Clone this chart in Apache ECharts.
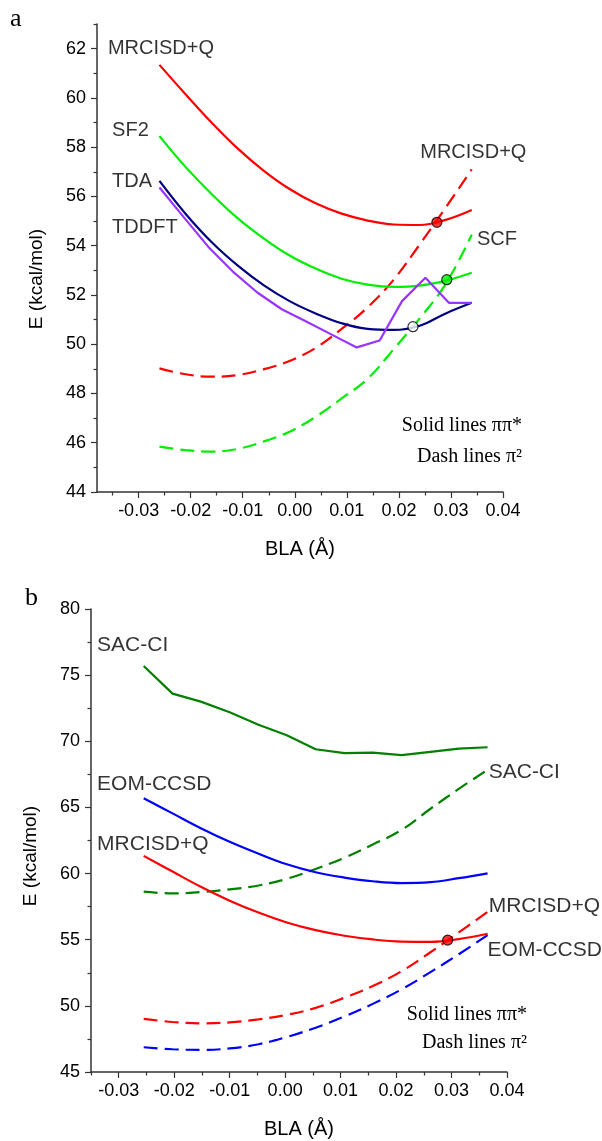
<!DOCTYPE html>
<html>
<head>
    <meta charset="utf-8">
    <title>BLA scan</title>
    <script src="https://cdn.jsdelivr.net/npm/echarts@6/dist/echarts.min.js"></script>
    <style>
        html, body { margin: 0; padding: 0; background: #fff; }
        #chart { width: 602px; height: 1141px; }
    </style>
</head>
<body>
<div id="chart"></div>
<script type="text/javascript">
    // BLA points (Å)
    var blaA = [-0.026, -0.021, -0.016, -0.011, -0.006, -0.001, 0.004, 0.009, 0.014, 0.019, 0.024, 0.029, 0.034];
    var blaTddft = [-0.026, -0.0213, -0.0166, -0.0119, -0.0072, -0.0025, 0.0022, 0.007, 0.0119, 0.0163, 0.0206, 0.0251, 0.0296, 0.034];
    var blaB = [-0.0255, -0.0203, -0.0152, -0.0100, -0.0048, 0.0003, 0.0055, 0.0107, 0.0158, 0.0210, 0.0262, 0.0313, 0.0365];

    // energies (kcal/mol)
    var mrSolid = [61.34, 60.15, 59.0, 57.95, 57.05, 56.3, 55.72, 55.3, 55.02, 54.86, 54.84, 55.05, 55.45];
    var mrDash  = [49.02, 48.78, 48.68, 48.75, 48.98, 49.32, 49.85, 50.62, 51.5, 52.62, 54.05, 55.55, 57.1];
    var sf2     = [58.45, 57.2, 56.1, 55.12, 54.3, 53.6, 53.07, 52.66, 52.42, 52.33, 52.38, 52.58, 52.9];
    var scf     = [45.84, 45.7, 45.64, 45.75, 46.05, 46.45, 47.05, 47.8, 48.6, 49.8, 51.05, 52.45, 54.45];
    var tda     = [56.63, 55.3, 54.15, 53.2, 52.4, 51.75, 51.25, 50.85, 50.62, 50.58, 50.75, 51.25, 51.68];
    var tddft   = [56.36, 55.15, 53.95, 52.95, 52.1, 51.42, 50.92, 50.4, 49.87, 50.15, 51.75, 52.7, 51.68, 51.68];

    var eomSolid = [65.69, 64.55, 63.43, 62.4, 61.5, 60.7, 60.1, 59.7, 59.42, 59.28, 59.35, 59.65, 60.02];
    var eomDash  = [46.87, 46.72, 46.67, 46.78, 47.1, 47.65, 48.35, 49.2, 50.15, 51.25, 52.55, 53.9, 55.35];
    var sacSolid = [75.69, 73.6, 73.0, 72.2, 71.25, 70.45, 69.4, 69.1, 69.15, 68.95, 69.2, 69.45, 69.55];
    var sacDash  = [58.63, 58.5, 58.6, 58.8, 59.1, 59.6, 60.35, 61.2, 62.2, 63.3, 64.9, 66.4, 67.85];

    // crossing points [BLA, E, fill]
    var crossA = [[0.0273, 54.95, '#ff0000'], [0.0292, 52.62, '#00ee00'], [0.0227, 50.71, '#ffffff']];
    var crossB = [[0.0293, 54.97, '#ff0000']];

    // curve names [BLA, E, text]
    var namesA = [[-0.0359, 62.0, 'MRCISD+Q'], [-0.0351, 58.66, 'SF2'], [-0.0351, 56.59, 'TDA'],
                  [-0.0351, 54.72, 'TDDFT'], [0.0241, 57.8, 'MRCISD+Q'], [0.035, 54.27, 'SCF']];
    var namesB = [[-0.0339, 77.28, 'SAC-CI'], [-0.0339, 66.75, 'EOM-CCSD'], [-0.0339, 62.2, 'MRCISD+Q'],
                  [0.0367, 67.64, 'SAC-CI'], [0.0367, 57.51, 'MRCISD+Q'], [0.0365, 54.19, 'EOM-CCSD']];

    // ticks
    var xTicks  = [-0.03, -0.02, -0.01, 0, 0.01, 0.02, 0.03, 0.04];
    var xMinorA = [-0.035, -0.025, -0.015, -0.005, 0.005, 0.015, 0.025, 0.035];
    var xMinorB = [-0.035, -0.025, -0.015, -0.005, 0.005, 0.015, 0.025, 0.035];
    var yTicksA = [44, 46, 48, 50, 52, 54, 56, 58, 60, 62];
    var yMinorA = [45, 47, 49, 51, 53, 55, 57, 59, 61, 63];
    var yTicksB = [45, 50, 55, 60, 65, 70, 75, 80];
    var yMinorB = [47.5, 52.5, 57.5, 62.5, 67.5, 72.5, 77.5];

    var SANS = '"Liberation Sans", Arial, sans-serif';
    var SERIF = '"Liberation Serif", "Times New Roman", serif';
    var AXIS_COLOR = '#333';

    function pairs(xs, ys) {
        return xs.map(function (x, i) { return [x, ys[i]]; });
    }

    function curve(name, xs, ys, color, dashed, smooth, idx) {
        return {
            name: name, type: 'line', xAxisIndex: idx, yAxisIndex: idx,
            data: pairs(xs, ys), showSymbol: false, smooth: smooth,
            lineStyle: { color: color, width: 2.2, type: dashed ? [14, 7] : 'solid' },
            z: 3
        };
    }

    function dots(list, idx) {
        return {
            type: 'scatter', xAxisIndex: idx, yAxisIndex: idx, symbolSize: 10, z: 10,
            data: list.map(function (d) {
                return { value: [d[0], d[1]], itemStyle: { color: d[2], borderColor: '#000', borderWidth: 1.2 } };
            })
        };
    }

    function names(list, idx, size) {
        return {
            type: 'scatter', xAxisIndex: idx, yAxisIndex: idx, symbolSize: 0, z: 12, silent: true,
            data: list.map(function (d) { return { value: [d[0], d[1]], name: d[2] }; }),
            label: {
                show: true, position: 'right', distance: 0, formatter: '{b}',
                fontFamily: SANS, fontSize: size, color: '#000', verticalAlign: 'middle'
            }
        };
    }

    function xMain(grid, min, ticks) {
        return {
            type: 'value', gridIndex: grid, position: 'bottom', min: min, max: 0.04,
            name: 'BLA (Å)', nameLocation: 'middle', nameGap: 47,
            nameTextStyle: { fontFamily: SANS, fontSize: 20, color: '#000' },
            axisLine: { onZero: false, lineStyle: { color: AXIS_COLOR, width: 1.5 } },
            axisTick: { customValues: ticks, length: 6, lineStyle: { color: AXIS_COLOR, width: 1.2 } },
            axisLabel: {
                customValues: ticks, margin: 10, fontFamily: SANS, fontSize: 18, color: '#000',
                formatter: function (v) { return v.toFixed(2); }
            },
            splitLine: { show: false }
        };
    }

    function xMinor(grid, min, ticks) {
        return {
            type: 'value', gridIndex: grid, position: 'bottom', min: min, max: 0.04,
            axisLine: { show: false, onZero: false },
            axisTick: { customValues: ticks, length: 3.5, lineStyle: { color: AXIS_COLOR, width: 1.2 } },
            axisLabel: { show: false }, splitLine: { show: false }
        };
    }

    function yMain(grid, min, max, ticks, pad) {
        return {
            type: 'value', gridIndex: grid, position: 'left', min: min, max: max,
            name: 'E (kcal/mol)', nameLocation: 'middle', nameGap: 51,
            nameTextStyle: { fontFamily: SANS, fontSize: 19, color: '#000', padding: [0, pad, 0, 0] },
            axisLine: { show: true, onZero: false, lineStyle: { color: AXIS_COLOR, width: 1.5 } },
            axisTick: { show: true, customValues: ticks, length: 6, lineStyle: { color: AXIS_COLOR, width: 1.2 } },
            axisLabel: { customValues: ticks, margin: 11, fontFamily: SANS, fontSize: 18, color: '#000' },
            splitLine: { show: false }
        };
    }

    function yMinor(grid, min, max, ticks) {
        return {
            type: 'value', gridIndex: grid, position: 'left', min: min, max: max,
            axisLine: { show: false, onZero: false },
            axisTick: { show: true, customValues: ticks, length: 3.5, lineStyle: { color: AXIS_COLOR, width: 1.2 } },
            axisLabel: { show: false }, splitLine: { show: false }
        };
    }

    var myChart = echarts.init(document.getElementById('chart'));
    myChart.setOption({
        backgroundColor: '#fff',
        animation: false,
        grid: [
            { left: 97, top: 24, width: 406, height: 468 },
            { left: 91, top: 609, width: 416, height: 463 }
        ],
        xAxis: [
            xMain(0, -0.038, xTicks), xMinor(0, -0.038, xMinorA),
            xMain(1, -0.035, xTicks), xMinor(1, -0.035, xMinorB)
        ],
        yAxis: [
            yMain(0, 44, 63, yTicksA, 42), yMinor(0, 44, 63, yMinorA),
            yMain(1, 45, 80, yTicksB, 31), yMinor(1, 45, 80, yMinorB)
        ],
        graphic: [
            { type: 'text', left: 10, top: 6, style: { text: 'a', font: '26px ' + SERIF, fill: '#000' } },
            { type: 'text', left: 25, top: 585, style: { text: 'b', font: '26px ' + SERIF, fill: '#000' } },
            { type: 'text', x: 522, y: 426, style: { text: 'Solid lines ππ*', font: '20px ' + SERIF, fill: '#000', align: 'right', verticalAlign: 'middle' } },
            { type: 'text', x: 522, y: 457, style: { text: 'Dash lines π²', font: '20px ' + SERIF, fill: '#000', align: 'right', verticalAlign: 'middle' } },
            { type: 'text', x: 527, y: 1015, style: { text: 'Solid lines ππ*', font: '20px ' + SERIF, fill: '#000', align: 'right', verticalAlign: 'middle' } },
            { type: 'text', x: 527, y: 1043, style: { text: 'Dash lines π²', font: '20px ' + SERIF, fill: '#000', align: 'right', verticalAlign: 'middle' } }
        ],
        series: [
            curve('MRCISD+Q ππ*', blaA, mrSolid, '#ff0000', false, 0.4, 0),
            curve('MRCISD+Q π2', blaA, mrDash, '#ff0000', true, 0.4, 0),
            curve('SF2 ππ*', blaA, sf2, '#00ee00', false, 0.4, 0),
            curve('SCF π2', blaA, scf, '#00ee00', true, 0.4, 0),
            curve('TDA', blaA, tda, '#000080', false, 0.4, 0),
            curve('TDDFT', blaTddft, tddft, '#9933ff', false, false, 0),
            dots(crossA, 0),
            names(namesA, 0, 20),

            curve('SAC-CI ππ*', blaB, sacSolid, '#008000', false, false, 2),
            curve('SAC-CI π2', blaB, sacDash, '#008000', true, 0.4, 2),
            curve('EOM-CCSD ππ*', blaB, eomSolid, '#0000ff', false, 0.4, 2),
            curve('EOM-CCSD π2', blaB, eomDash, '#0000ff', true, 0.4, 2),
            curve('MRCISD+Q ππ* b', blaB, mrSolid, '#ff0000', false, 0.4, 2),
            curve('MRCISD+Q π2 b', blaB, mrDash, '#ff0000', true, 0.4, 2),
            dots(crossB, 2),
            names(namesB, 2, 21)
        ]
    });
</script>
</body>
</html>
